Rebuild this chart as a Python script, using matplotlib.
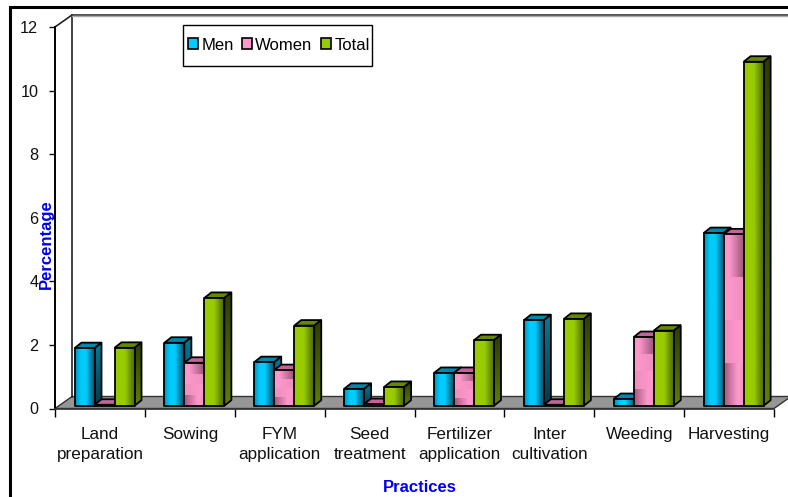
import numpy as np
import matplotlib
matplotlib.use('Agg')
import matplotlib.pyplot as plt
from matplotlib.colors import to_rgb
from matplotlib.lines import Line2D
from matplotlib.patches import Patch, Polygon, Rectangle

practices = ['Land\npreparation', 'Sowing', 'FYM\napplication', 'Seed\ntreatment',
             'Fertilizer\napplication', 'Inter\ncultivation', 'Weeding', 'Harvesting']
men = [1.81, 1.98, 1.37, 0.53, 1.03, 2.69, 0.21, 5.43]
women = [0.03, 1.35, 1.12, 0.05, 1.03, 0.03, 2.16, 5.39]
total = [1.82, 3.39, 2.52, 0.59, 2.06, 2.73, 2.36, 10.82]
series_names = ['Men', 'Women', 'Total']
y_ticks = [0, 2, 4, 6, 8, 10, 12]

W, H = 788, 497
LEFT, RIGHT, BOTTOM, TOP = 55, 774, 408.5, 27  # axes box in pixels
px_x = (RIGHT - LEFT) / 8.0
px_y = (BOTTOM - TOP) / 12.0

plt.rcParams['font.family'] = ['Liberation Sans', 'DejaVu Sans']
fig = plt.figure(figsize=(W / 100, H / 100), dpi=100, facecolor='white')
ax = fig.add_axes([LEFT / W, 1 - BOTTOM / H, (RIGHT - LEFT) / W, (BOTTOM - TOP) / H])
ax.patch.set_visible(False)


def ramp(stops, n=40):
    pos = [s[0] for s in stops]
    cols = np.array([to_rgb(s[1]) for s in stops])
    t = np.linspace(0, 1, n)
    return np.stack([np.interp(t, pos, cols[:, c]) for c in range(3)], axis=1)


def across(stops):
    return ramp(stops)[np.newaxis, :, :]


def down(stops):
    return ramp(stops)[:, np.newaxis, :]


def women_front():
    top = ramp([(0, '#f593c4'), (0.25, '#ff99cc'), (1, '#a0587c')])
    mid1 = ramp([(0, '#ff99cc'), (1, '#ee8fbe')])
    mid2 = ramp([(0, '#ee8fbe'), (1, '#ff99cc')])
    low = ramp([(0, '#a0587c'), (0.7, '#ff99cc'), (1, '#f593c4')])
    return np.stack([top, mid1, mid2, low], axis=0)


front_img = [
    across([(0, '#0094bc'), (0.3, '#00ccff'), (0.55, '#00ccff'), (1, '#004e68')]),
    women_front(),
    across([(0, '#99cc00'), (0.5, '#99cc00'), (1, '#4c6600')]),
]
front_interp = ['bilinear', 'nearest', 'bilinear']
side_img = [
    down([(0, '#007c9c'), (1, '#003a4c')]),
    down([(0, '#a05a80'), (1, '#6a3c55')]),
    down([(0, '#2e3d00'), (1, '#5f7f00')]),
]
top_col = ['#0088aa', '#c0659a', '#668800']
legend_col = ['#00ccff', '#ff99cc', '#99cc00']

# depth of the 3d box and of the bars, in data units
box_dx, box_dy = 17 / px_x, 12 / px_y
bar_dx, bar_dy = 7 / px_x, 5.5 / px_y
bar_w = 20 / px_x
bar_start = 19.5 / px_x
base = 2.8 / px_y


def fill(img, pts, interp='bilinear'):
    xs = [p[0] for p in pts]
    ys = [p[1] for p in pts]
    im = ax.imshow(img, extent=(min(xs), max(xs), min(ys), max(ys)), origin='upper',
                   aspect='auto', interpolation=interp, zorder=3)
    clip = Polygon(pts, closed=True, transform=ax.transData)
    im.set_clip_path(clip)
    im.set_clip_box(fig.bbox)
    ax.add_patch(Polygon(pts, closed=True, fill=False, edgecolor='black', linewidth=1.3,
                         joinstyle='round', zorder=3))


# walls and floor
wall_kw = dict(color='#222222', lw=1.2, clip_on=False, zorder=1)
floor = [(0, 0), (box_dx, box_dy), (8 + box_dx, box_dy), (8, 0)]
ax.add_patch(Polygon(floor, closed=True, facecolor='#969696', edgecolor='#333333',
                     linewidth=1, clip_on=False, zorder=1))
ax.plot([box_dx, box_dx], [box_dy, 12 + box_dy], **wall_kw)
ax.plot([0, box_dx], [12, 12 + box_dy], **wall_kw)
ax.plot([box_dx, 8.5], [12 + box_dy, 12 + box_dy], color='#333333', lw=1.2, clip_on=False, zorder=1)
ax.plot([box_dx, 8.5], [12 + box_dy - 0.035, 12 + box_dy - 0.035], color='#aaaaaa', lw=1, clip_on=False, zorder=1)

# bars, painted left to right so the next front covers the previous side
for i in range(len(practices)):
    for k, vals in enumerate([men, women, total]):
        x0 = i + bar_start + k * bar_w
        x1 = x0 + bar_w
        y0 = base
        y1 = base + vals[i]
        top = [(x0, y1), (x0 + bar_dx, y1 + bar_dy), (x1 + bar_dx, y1 + bar_dy), (x1, y1)]
        ax.add_patch(Polygon(top, closed=True, facecolor=top_col[k], edgecolor='black',
                             linewidth=1.3, zorder=3))
        fill(side_img[k], [(x1, y0), (x1 + bar_dx, y0 + bar_dy), (x1 + bar_dx, y1 + bar_dy), (x1, y1)])
        fill(front_img[k], [(x0, y0), (x1, y0), (x1, y1), (x0, y1)], front_interp[k])

ax.set_xlim(0, 8)
ax.set_ylim(0, 12)
for s in ['top', 'right']:
    ax.spines[s].set_visible(False)
ax.spines['left'].set_linewidth(1.4)
ax.spines['bottom'].set_linewidth(1.2)
ax.spines['bottom'].set_color('#333333')

ax.set_yticks(y_ticks)
ax.tick_params(axis='y', labelsize=11.7, length=4, width=1, pad=8, colors='#111111')
ax.set_xticks(np.arange(9))
ax.set_xticklabels([])
ax.tick_params(axis='x', which='major', length=6, width=1)
ax.set_xticks(np.arange(8) + 0.5, minor=True)
ax.set_xticklabels(practices, minor=True, fontsize=12.3, linespacing=1.42, color='#111111')
ax.tick_params(axis='x', which='minor', length=0, pad=13)

ax.set_xlabel('Practices', color='#0000ee', fontsize=12, fontweight='bold')
ax.xaxis.set_label_coords((420 - LEFT) / (RIGHT - LEFT), (BOTTOM - 487.5) / (BOTTOM - TOP))
ax.xaxis.label.set_va('center')
ax.set_ylabel('Percentage', color='#0000ee', fontsize=12, fontweight='bold')
ax.yaxis.set_label_coords((46 - LEFT) / (RIGHT - LEFT), (BOTTOM - 244) / (BOTTOM - TOP))
ax.yaxis.label.set_va('center')

# legend box is taller than its one row, so the frame is its own rectangle
ax.add_patch(Rectangle(((183 - LEFT) / px_x, (BOTTOM - 66) / px_y), 189 / px_x, 41 / px_y,
                       facecolor='white', edgecolor='black', linewidth=1, zorder=5, clip_on=False))
handles = [Patch(facecolor=c, edgecolor='black', linewidth=1.2) for c in legend_col]
lgd = ax.legend(handles, series_names, ncol=3, fontsize=12, frameon=False, loc='center left',
                bbox_to_anchor=((183 - LEFT) / (RIGHT - LEFT), (BOTTOM - 45) / (BOTTOM - TOP)),
                borderaxespad=0, borderpad=0.3, handlelength=0.6, handleheight=0.6,
                handletextpad=0.2, columnspacing=0.5)
lgd.set_zorder(6)

# black frame round the picture, top and left only
fig.add_artist(Line2D([9.5 / W, 9.5 / W, 1], [0, 1 - 7 / H, 1 - 7 / H], color='black', lw=2.2,
                      solid_joinstyle='miter'))

fig.savefig('out.png', dpi=100)
